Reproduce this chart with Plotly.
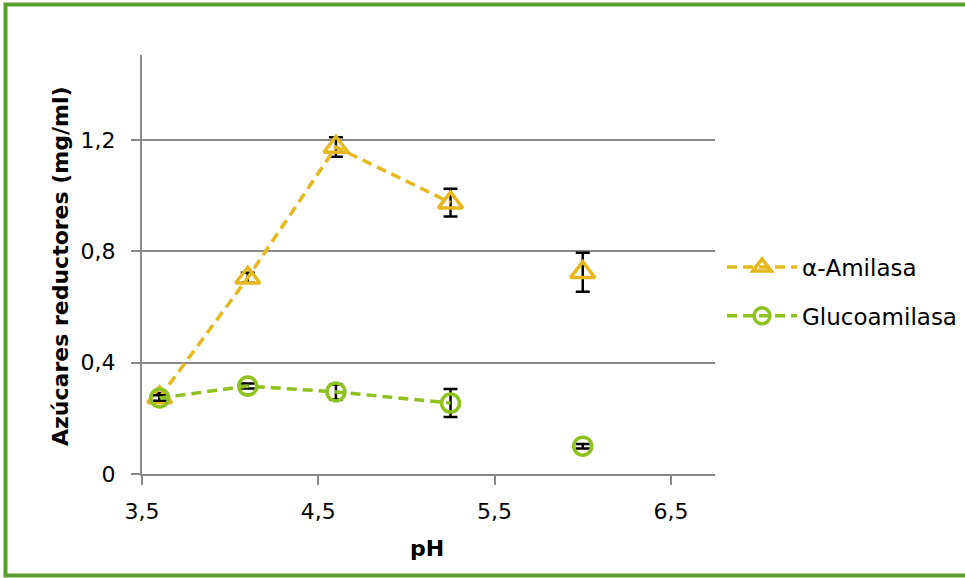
import plotly.graph_objects as go

# ---- data ----
ph = [3.6, 4.1, 4.6, 5.25, 6.0]
amilasa = [0.275, 0.705, 1.175, 0.975, 0.725]
amilasa_err = [0.016, 0.018, 0.035, 0.05, 0.07]
gluco = [0.273, 0.316, 0.295, 0.255, 0.10]
gluco_err = [0.01, 0.009, 0.027, 0.05, 0.008]
names = ["α-Amilasa", "Glucoamilasa"]
x_tickvals = [3.5, 4.5, 5.5, 6.5]
x_ticktext = ["3,5", "4,5", "5,5", "6,5"]
y_tickvals = [0, 0.4, 0.8, 1.2]
y_ticktext = ["0", "0,4", "0,8", "1,2"]

GOLD = "#E6B81E"
GREEN = "#8DC21F"
BORDER = "#5A9E2E"
AXIS = "#898989"
FONT = "DejaVu Sans"
FS = 22

W, H = 965, 578
L, R, T, B = 142, 250, 55, 104
PW, PH = W - L - R, H - T - B


def px(x):
    return (x - L) / PW


def py(y):
    return (H - B - y) / PH


fig = go.Figure()

series = [
    (names[0], amilasa, amilasa_err, GOLD, "triangle-up-open", 21, "a"),
    (names[1], gluco, gluco_err, GREEN, "circle-open", 18, "g"),
]
for name, vals, err, col, sym, size, grp in series:
    fig.add_trace(go.Scatter(
        x=ph[:4], y=vals[:4], name=name, mode="lines+markers",
        line=dict(color=col, width=3.5, dash="10px,6px"),
        marker=dict(symbol=sym, size=size, color=col, line=dict(width=3.5, color=col)),
        error_y=dict(type="data", array=err[:4], visible=True, color="black",
                     thickness=2.5, width=7),
        legendgroup=grp, showlegend=True,
    ))
    fig.add_trace(go.Scatter(
        x=ph[4:], y=vals[4:], name=name, mode="markers",
        marker=dict(symbol=sym, size=size, color=col, line=dict(width=3.5, color=col)),
        error_y=dict(type="data", array=err[4:], visible=True, color="black",
                     thickness=2.5, width=7),
        legendgroup=grp, showlegend=False,
    ))

fig.update_layout(
    width=W, height=H,
    margin=dict(l=L, r=R, t=T, b=B, pad=0, autoexpand=False),
    paper_bgcolor="white", plot_bgcolor="white",
    font=dict(family=FONT, size=FS, color="black"),
    showlegend=True,
    legend=dict(x=px(722), xanchor="left", y=py(291.5), yanchor="middle",
                traceorder="grouped", tracegroupgap=16, itemwidth=70,
                font=dict(family=FONT, size=23, color="black"),
                bgcolor="rgba(0,0,0,0)"),
    xaxis=dict(range=[3.5, 3.5 + PW / 176.3], tickvals=x_tickvals, ticktext=x_ticktext,
               showgrid=False, zeroline=False, showline=True, linecolor=AXIS, linewidth=2,
               ticks="outside", ticklen=9, tickwidth=2, tickcolor=AXIS,
               ticklabelstandoff=8, fixedrange=True, automargin=False),
    yaxis=dict(range=[0, PH / 278.3], tickvals=y_tickvals, ticktext=y_ticktext,
               showgrid=True, gridcolor=AXIS, gridwidth=2, zeroline=False,
               showline=True, linecolor=AXIS, linewidth=2,
               ticks="outside", ticklen=9, tickwidth=2, tickcolor=AXIS,
               ticklabelstandoff=11, fixedrange=True, automargin=False),
    shapes=[dict(type="rect", xref="paper", yref="paper",
                 x0=px(5.5), x1=px(985), y0=py(575.5), y1=py(4.5),
                 line=dict(color=BORDER, width=4), fillcolor="rgba(0,0,0,0)", layer="above")],
    annotations=[
        dict(text="<b>Azúcares reductores (mg/ml)</b>", xref="paper", yref="paper",
             x=px(60), y=py(266), xanchor="center", yanchor="middle", textangle=-90,
             showarrow=False, font=dict(family=FONT, size=FS, color="black")),
        dict(text="<b>pH</b>", xref="paper", yref="paper",
             x=px(427), y=py(548), xanchor="center", yanchor="middle",
             showarrow=False, font=dict(family=FONT, size=FS, color="black")),
    ],
)

fig.write_html("out.html")
